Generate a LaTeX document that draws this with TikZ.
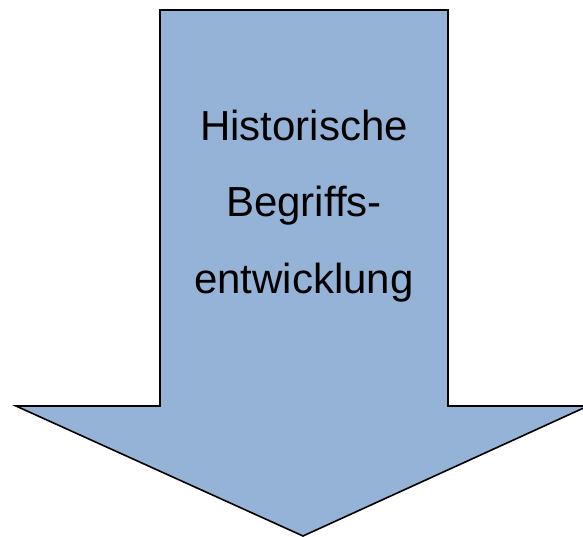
\documentclass[tikz,border=0pt]{standalone}
\usepackage{fontspec}
\setmainfont{Liberation Sans}
\definecolor{arrowblue}{RGB}{149,179,215}
\begin{document}
\begin{tikzpicture}[x=1pt,y=-1pt,
  arrowshape/.style={fill=arrowblue,draw=black,line width=1.6pt,line join=miter},
  label/.style={font=\fontsize{42}{76}\selectfont,align=center,text=black,inner sep=0pt}]
\useasboundingbox (0,0) rectangle (583,537);
\coordinate (sl) at (160,10);
\coordinate (sr) at (448,10);
\coordinate (br) at (448,406);
\coordinate (hr) at (588,406);
\coordinate (tip) at (303,536);
\coordinate (hl) at (16,406);
\coordinate (bl) at (160,406);
\draw[arrowshape] (sl) -- (sr) -- (br) -- (hr) -- (tip) -- (hl) -- (bl) -- cycle;
\node[label,anchor=base] (l1) at (304,141) {Historische};
\node[label,anchor=base] (l2) at (304,217) {Begriffs-};
\node[label,anchor=base] (l3) at (304,293) {entwicklung};
\end{tikzpicture}
\end{document}
